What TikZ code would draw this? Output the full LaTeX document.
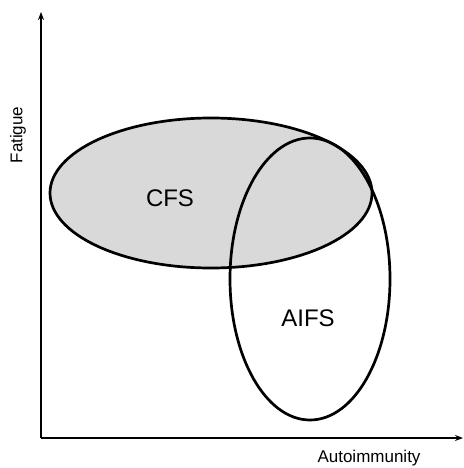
\documentclass[tikz,border=0pt]{standalone}
\usepackage{fontspec}
\setmainfont{Liberation Sans}
\usetikzlibrary{arrows.meta}
\definecolor{cfsgray}{RGB}{217,217,217}
\begin{document}
\begin{tikzpicture}[x=1pt,y=-1pt,
  axis/.style={line width=2.6pt,-{Stealth[length=8pt,width=6pt]}},
  setline/.style={line width=2.7pt},
  lbl/.style={font=\fontsize{24}{24}\selectfont},
  axlbl/.style={font=\fontsize{17}{17}\selectfont}]
\useasboundingbox (0,0) rectangle (463,468);
% ellipses
\fill[cfsgray] (211,193) ellipse [x radius=161, y radius=75];
\draw[setline] (310,279) ellipse [x radius=80, y radius=141];
\draw[setline] (211,193) ellipse [x radius=161, y radius=75];
% axes
\coordinate (o) at (41,438);
\coordinate (ytop) at (41,12);
\coordinate (xend) at (463,438);
\draw[axis] (o) -- (ytop);
\draw[axis] (o) -- (xend);
% labels
\node[lbl] (cfs) at (170,198) {CFS};
\node[lbl] (aifs) at (308,318) {AIFS};
\node[axlbl,rotate=90] (fat) at (18,135) {Fatigue};
\node[axlbl] (auto) at (369,458) {Autoimmunity};
\end{tikzpicture}
\end{document}
